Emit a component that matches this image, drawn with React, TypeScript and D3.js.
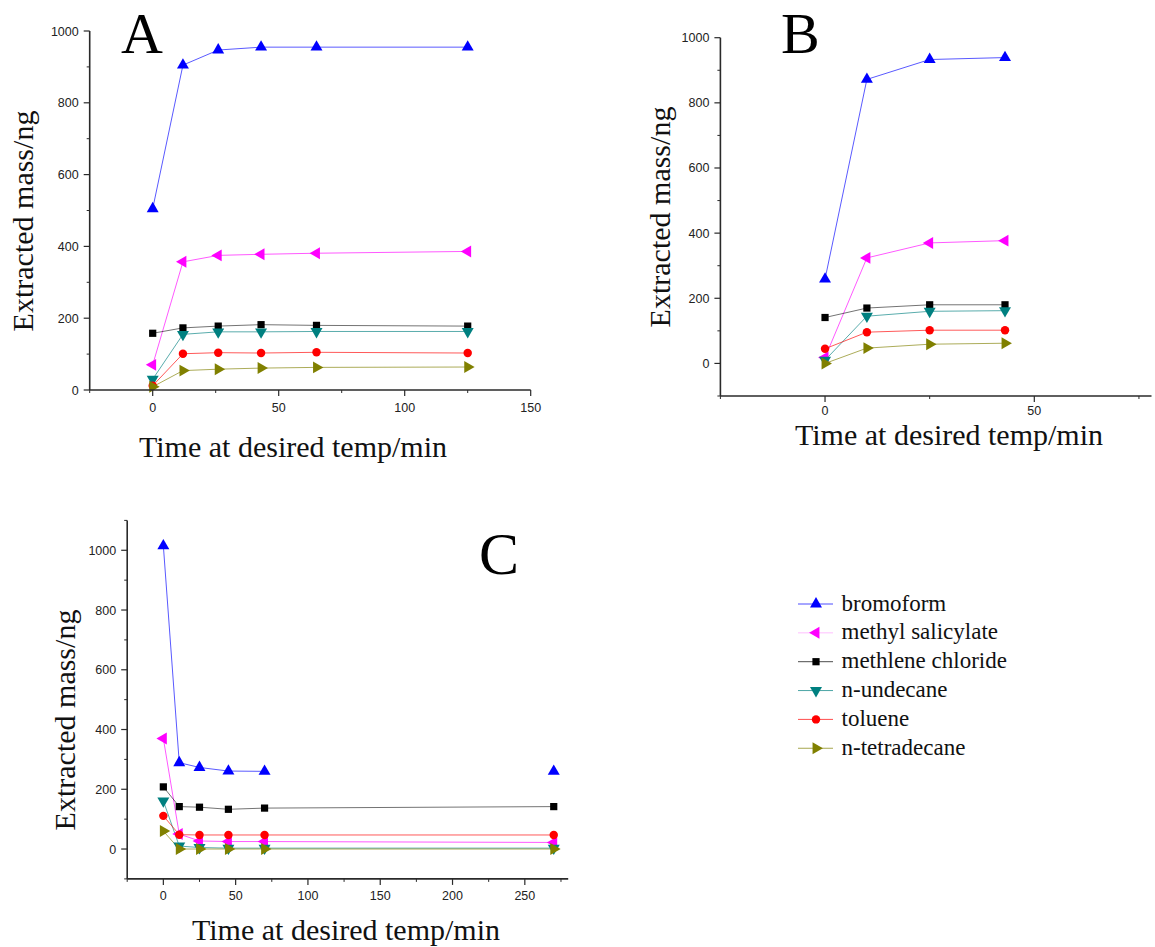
import React from 'react';
import * as d3 from 'd3';

// Compounds, in legend order
const COMPOUNDS = ['bromoform', 'methyl salicylate', 'methlene chloride', 'n-undecane', 'toluene', 'n-tetradecane'];
const COLORS = ['#0000ff', '#ff00ff', '#000000', '#008080', '#ff0000', '#808000'];
const SHAPES = ['up', 'left', 'square', 'down', 'circle', 'right'];

// Panel A: time (min) and extracted mass (ng)
const TIME_A = [0, 12, 26, 43, 65, 125];
const A_BROMOFORM = [505, 905, 947, 955, 955, 955];
const A_METHYL_SALICYLATE = [70, 357, 375, 378, 381, 386];
const A_METHYLENE_CHLORIDE = [158, 173, 178, 182, 180, 178];
const A_UNDECANE = [30, 155, 162, 162, 163, 163];
const A_TOLUENE = [12, 101, 104, 103, 105, 103];
const A_TETRADECANE = [9, 54, 58, 61, 63, 64];

// Panel B
const TIME_B = [0, 10, 25, 43];
const B_BROMOFORM = [259, 872, 933, 939];
const B_METHYL_SALICYLATE = [18, 324, 370, 377];
const B_METHYLENE_CHLORIDE = [141, 170, 180, 180];
const B_UNDECANE = [10, 145, 160, 162];
const B_TOLUENE = [45, 96, 102, 102];
const B_TETRADECANE = [0, 47, 59, 62];

// Panel C
const TIME_C = [0, 11, 25, 45, 70, 270];
const C_BROMOFORM = [1015, 289, 273, 261, 260, 260];
const C_METHYL_SALICYLATE = [370, 50, 27, 25, 25, 22];
const C_METHYLENE_CHLORIDE = [208, 142, 140, 133, 137, 142];
const C_UNDECANE = [161, 10, 5, 3, 3, 3];
const C_TOLUENE = [111, 48, 47, 47, 47, 47];
const C_TETRADECANE = [60, 0, 0, 0, 0, 0];
// bromoform in C is only joined up to the 70 min point
const C_BROMOFORM_JOINED = 5;

// Axis ticks
const X_TICKS_A = [0, 50, 100, 150];
const X_TICKS_B = [0, 50];
const X_TICKS_C = [0, 50, 100, 150, 200, 250];
const Y_TICKS = [0, 200, 400, 600, 800, 1000];

const TITLE_X = 'Time at desired temp/min';
const TITLE_Y = 'Extracted mass/ng';

type PanelCfg = {
  letter: string;
  time: number[];
  values: number[][];
  joined: number[];
  xDomain: [number, number];
  yDomain: [number, number];
  xRange: [number, number];
  yRange: [number, number];
  xTicks: number[];
  xLabelGap: number;
  letterPos: [number, number, number];
  xTitlePos: [number, number];
  yTitlePos: [number, number];
};

const PANELS: PanelCfg[] = [
  {
    letter: 'A',
    time: TIME_A,
    values: [A_BROMOFORM, A_METHYL_SALICYLATE, A_METHYLENE_CHLORIDE, A_UNDECANE, A_TOLUENE, A_TETRADECANE],
    joined: [6, 6, 6, 6, 6, 6],
    xDomain: [-25, 150],
    yDomain: [0, 1000],
    xRange: [89.7, 530.7],
    yRange: [390, 31],
    xTicks: X_TICKS_A,
    xLabelGap: 17,
    letterPos: [121, 53, 58],
    xTitlePos: [293, 456.5],
    yTitlePos: [33, 221],
  },
  {
    letter: 'B',
    time: TIME_B,
    values: [B_BROMOFORM, B_METHYL_SALICYLATE, B_METHYLENE_CHLORIDE, B_UNDECANE, B_TOLUENE, B_TETRADECANE],
    joined: [4, 4, 4, 4, 4, 4],
    xDomain: [-25, 78],
    yDomain: [-100, 1000],
    xRange: [720.4, 1151.5],
    yRange: [396, 37.7],
    xTicks: X_TICKS_B,
    xLabelGap: 14,
    letterPos: [781, 53, 58],
    xTitlePos: [949, 444.5],
    yTitlePos: [670, 217],
  },
  {
    letter: 'C',
    time: TIME_C,
    values: [C_BROMOFORM, C_METHYL_SALICYLATE, C_METHYLENE_CHLORIDE, C_UNDECANE, C_TOLUENE, C_TETRADECANE],
    joined: [C_BROMOFORM_JOINED, 6, 6, 6, 6, 6],
    xDomain: [-25, 280],
    yDomain: [-100, 1100],
    xRange: [127.2, 568.2],
    yRange: [878.9, 520.4],
    xTicks: X_TICKS_C,
    xLabelGap: 17,
    letterPos: [479, 574, 60],
    xTitlePos: [346, 940],
    yTitlePos: [75, 720],
  },
];

const SANS = '"Liberation Sans", Arial, sans-serif';
const SERIF = '"Liberation Serif", "Times New Roman", serif';
const AXIS_COLOR = '#2a2a2a';

function Marker({ shape, color, x, y }: { shape: string; color: string; x: number; y: number }) {
  let path: string;
  let rot = 0;
  if (shape === 'square') path = d3.symbol().type(d3.symbolSquare).size(52)()!;
  else if (shape === 'circle') path = d3.symbol().type(d3.symbolCircle).size(56)()!;
  else {
    path = d3.symbol().type(d3.symbolTriangle).size(62)()!;
    rot = shape === 'up' ? 0 : shape === 'left' ? -90 : shape === 'down' ? 180 : 90;
  }
  return <path d={path} fill={color} transform={`translate(${x},${y}) rotate(${rot})`} />;
}

function Panel({ cfg }: { cfg: PanelCfg }) {
  const x = d3.scaleLinear().domain(cfg.xDomain).range(cfg.xRange);
  const y = d3.scaleLinear().domain(cfg.yDomain).range(cfg.yRange);
  const line = d3
    .line<[number, number]>()
    .x((d) => x(d[0]))
    .y((d) => y(d[1]));

  const x0 = x(cfg.xDomain[0]);
  const yBase = y(cfg.yDomain[0]);
  const yMinor = d3.range(Math.ceil(cfg.yDomain[0] / 100) * 100, cfg.yDomain[1] + 1, 100).filter((v) => !Y_TICKS.includes(v));
  const xMinor = d3.range(Math.ceil(cfg.xDomain[0] / 25) * 25, cfg.xDomain[1] + 0.1, 25).filter((v) => !cfg.xTicks.includes(v));

  return (
    <g>
      {/* connecting lines */}
      {cfg.values.map((vals, i) => {
        const pts = cfg.time.slice(0, cfg.joined[i]).map((t, k) => [t, vals[k]] as [number, number]);
        return (
          <path
            key={'l' + i}
            d={line(pts) ?? ''}
            fill="none"
            stroke={COLORS[i]}
            strokeWidth={1}
            strokeOpacity={i === 2 ? 0.55 : 0.65}
          />
        );
      })}
      {/* markers */}
      {cfg.values.map((vals, i) =>
        cfg.time.map((t, k) => (
          <Marker key={`m${i}-${k}`} shape={SHAPES[i]} color={COLORS[i]} x={x(t)} y={y(vals[k])} />
        ))
      )}

      {/* y axis */}
      <line x1={x0} x2={x0} y1={y(cfg.yDomain[0])} y2={y(cfg.yDomain[1])} stroke={AXIS_COLOR} strokeWidth={1.6} />
      {Y_TICKS.map((v) => (
        <g key={'yt' + v}>
          <line x1={x0 - 6} x2={x0} y1={y(v)} y2={y(v)} stroke={AXIS_COLOR} strokeWidth={1.2} />
          <text
            x={x0 - 11}
            y={y(v)}
            dy="0.36em"
            textAnchor="end"
            fontFamily={SANS}
            fontSize={12.5}
            fill="#222"
          >
            {v}
          </text>
        </g>
      ))}
      {yMinor.map((v) => (
        <line key={'ym' + v} x1={x0 - 3} x2={x0} y1={y(v)} y2={y(v)} stroke={AXIS_COLOR} strokeWidth={1} />
      ))}

      {/* x axis */}
      <line x1={x0} x2={x(cfg.xDomain[1])} y1={yBase} y2={yBase} stroke={AXIS_COLOR} strokeWidth={1.6} />
      {cfg.xTicks.map((v) => (
        <g key={'xt' + v}>
          <line x1={x(v)} x2={x(v)} y1={yBase} y2={yBase + 6} stroke={AXIS_COLOR} strokeWidth={1.2} />
          <text
            x={x(v)}
            y={yBase + cfg.xLabelGap}
            dy="0.36em"
            textAnchor="middle"
            fontFamily={SANS}
            fontSize={12.5}
            fill="#222"
          >
            {v}
          </text>
        </g>
      ))}
      {xMinor.map((v) => (
        <line key={'xm' + v} x1={x(v)} x2={x(v)} y1={yBase} y2={yBase + 3} stroke={AXIS_COLOR} strokeWidth={1} />
      ))}

      {/* titles */}
      <text x={cfg.xTitlePos[0]} y={cfg.xTitlePos[1]} textAnchor="middle" fontFamily={SERIF} fontSize={30} fill="#111">
        {TITLE_X}
      </text>
      <text
        transform={`translate(${cfg.yTitlePos[0]},${cfg.yTitlePos[1]}) rotate(-90)`}
        textAnchor="middle"
        fontFamily={SERIF}
        fontSize={30}
        fill="#111"
      >
        {TITLE_Y}
      </text>
      <text x={cfg.letterPos[0]} y={cfg.letterPos[1]} fontFamily={SERIF} fontSize={cfg.letterPos[2]} fill="#000">
        {cfg.letter}
      </text>
    </g>
  );
}

function Legend() {
  const rowY = (i: number) => 604 + i * 28.85;
  return (
    <g>
      {COMPOUNDS.map((name, i) => (
        <g key={name}>
          <line x1={798} x2={833} y1={rowY(i)} y2={rowY(i)} stroke={COLORS[i]} strokeWidth={1} strokeOpacity={i === 1 ? 0.25 : 0.7} />
          <Marker shape={SHAPES[i]} color={COLORS[i]} x={816} y={rowY(i)} />
          <text x={841.5} y={rowY(i) + 6.5} fontFamily={SERIF} fontSize={23} fill="#111">
            {name}
          </text>
        </g>
      ))}
    </g>
  );
}

export default function App() {
  return (
    <svg
      width={1155}
      height={947}
      style={{ position: 'absolute', left: 0, top: 0, background: '#fff' }}
    >
      <rect width={1155} height={947} fill="#fff" />
      {PANELS.map((p) => (
        <Panel key={p.letter} cfg={p} />
      ))}
      <Legend />
    </svg>
  );
}
